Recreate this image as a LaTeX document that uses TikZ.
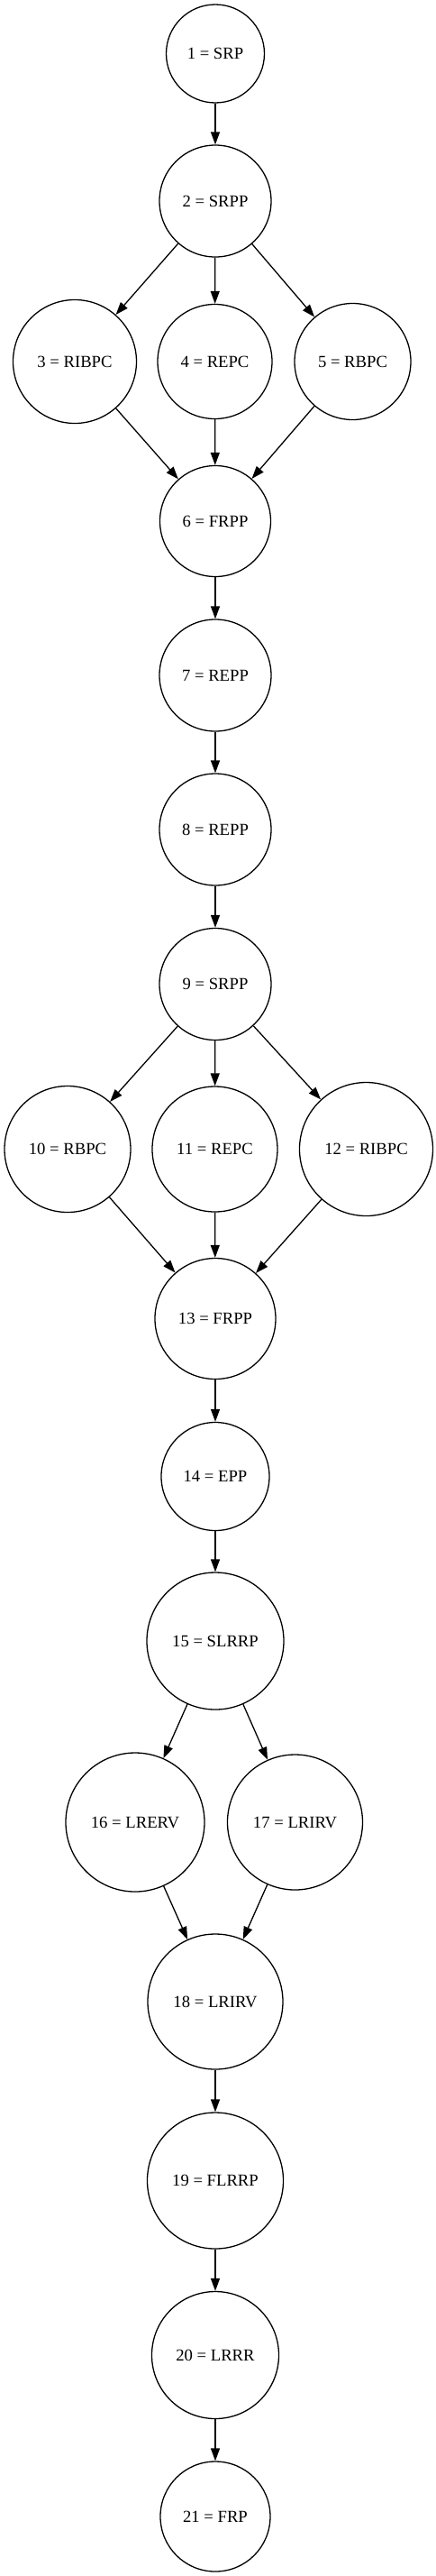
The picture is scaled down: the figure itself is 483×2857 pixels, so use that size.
\documentclass[tikz,border=0pt]{standalone}
\usepackage{fontspec}
\setmainfont{Liberation Serif}
\usepackage{tikz}
\usetikzlibrary{shapes,arrows,positioning,calc,arrows.meta}

\tikzset{
    st/.style={circle, draw, line width=1.3pt, inner sep=2pt, font=\fontsize{18.67}{22}\selectfont},
    edge/.style={line width=1.3pt, -{Triangle[length=14pt,width=10pt]}}
}

\begin{document}
\begin{tikzpicture}[x=1pt,y=-1pt]
    \useasboundingbox (0,0) rectangle (483,2857);

    % First block
    \node[st, minimum size=109pt] (n1) at (239,59.5) {1 = SRP};
    \node[st, minimum size=124pt] (n2) at (239,223) {2 = SRPP};
    \node[st, minimum size=137pt] (n3) at (83,401) {3 = RIBPC};
    \node[st, minimum size=127pt] (n4) at (238.5,401) {4 = REPC};
    \node[st, minimum size=129pt] (n5) at (391.5,401) {5 = RBPC};
    \node[st, minimum size=123pt] (n6) at (239,578) {6 = FRPP};

    % Middle chain
    \node[st, minimum size=124pt] (n7) at (239,749) {7 = REPP};
    \node[st, minimum size=124pt] (n8) at (239,920) {8 = REPP};

    % Second block
    \node[st, minimum size=124pt] (n9) at (239,1091.5) {9 = SRPP};
    \node[st, minimum size=140pt] (n10) at (75,1274.5) {10 = RBPC};
    \node[st, minimum size=139pt] (n11) at (238.5,1274.5) {11 = REPC};
    \node[st, minimum size=148pt] (n12) at (406.5,1274.5) {12 = RIBPC};
    \node[st, minimum size=134pt] (n13) at (239,1462.5) {13 = FRPP};
    \node[st, minimum size=120pt] (n14) at (239,1637.5) {14 = EPP};

    % Third block
    \node[st, minimum size=152pt] (n15) at (239,1820) {15 = SLRRP};
    \node[st, minimum size=154pt] (n16) at (150,2021) {16 = LRERV};
    \node[st, minimum size=150pt] (n17) at (327.5,2021) {17 = LRIRV};
    \node[st, minimum size=150pt] (n18) at (239,2220) {18 = LRIRV};

    % End chain
    \node[st, minimum size=151pt] (n19) at (239,2418.5) {19 = FLRRP};
    \node[st, minimum size=141pt] (n20) at (239,2612) {20 = LRRR};
    \node[st, minimum size=122pt] (n21) at (239,2791) {21 = FRP};

    % Edges
    \draw[edge] (n1) -- (n2);
    \draw[edge] (n2) -- (n3);
    \draw[edge] (n2) -- (n4);
    \draw[edge] (n2) -- (n5);
    \draw[edge] (n3) -- (n6);
    \draw[edge] (n4) -- (n6);
    \draw[edge] (n5) -- (n6);
    \draw[edge] (n6) -- (n7);
    \draw[edge] (n7) -- (n8);
    \draw[edge] (n8) -- (n9);
    \draw[edge] (n9) -- (n10);
    \draw[edge] (n9) -- (n11);
    \draw[edge] (n9) -- (n12);
    \draw[edge] (n10) -- (n13);
    \draw[edge] (n11) -- (n13);
    \draw[edge] (n12) -- (n13);
    \draw[edge] (n13) -- (n14);
    \draw[edge] (n14) -- (n15);
    \draw[edge] (n15) -- (n16);
    \draw[edge] (n15) -- (n17);
    \draw[edge] (n16) -- (n18);
    \draw[edge] (n17) -- (n18);
    \draw[edge] (n18) -- (n19);
    \draw[edge] (n19) -- (n20);
    \draw[edge] (n20) -- (n21);
\end{tikzpicture}
\end{document}
